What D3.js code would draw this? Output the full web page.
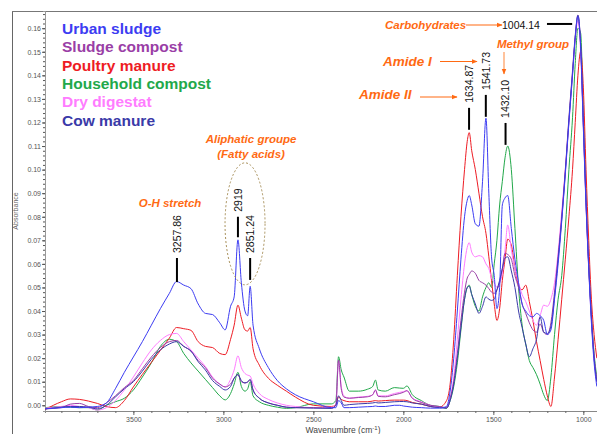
<!DOCTYPE html>
<html><head><meta charset="utf-8">
<script src="https://cdn.jsdelivr.net/npm/d3@7"></script>
<style>body{margin:0;background:#fff}svg{display:block}</style>
</head><body><svg id="c" width="597" height="434"></svg>
<script>
// ---- data ----
const wavenumbers = [3990,3900,3850,3800,3750,3700,3650,3600,3550,3500,3450,3400,3350,3300,3260,3220,3180,3140,3100,3060,3020,2990,2960,2940,2919,2900,2880,2865,2851,2835,2800,2750,2700,2650,2600,2500,2400,2375,2360,2345,2330,2300,2250,2200,2170,2155,2140,2100,2050,2020,2000,1980,1950,1900,1850,1800,1760,1740,1720,1700,1680,1660,1645,1634,1620,1600,1580,1560,1541,1525,1510,1495,1480,1465,1450,1435,1420,1400,1380,1360,1340,1320,1300,1280,1260,1240,1220,1200,1180,1160,1140,1120,1100,1080,1060,1045,1030,1015,1000,985,970,955,940,925];

const urbanSludge = [-0.0015,-0.001,-0.0008,-0.001,-0.0008,-0.0005,0.001,0.007,0.014,0.0205,0.027,0.034,0.041,0.0475,0.0525,0.051,0.0495,0.043,0.039,0.0385,0.035,0.032,0.042,0.046,0.0702,0.052,0.040,0.038,0.0505,0.034,0.024,0.016,0.0105,0.007,0.0045,0.0015,-0.001,-0.001,0.002,0.001,-0.001,-0.001,-0.0008,-0.0006,-0.0005,-0.0003,-0.0005,-0.0005,0.0,0.0,-0.0003,-0.0005,-0.0008,-0.001,-0.0012,-0.0012,-0.0005,0.006,0.02,0.04,0.062,0.08,0.087,0.089,0.085,0.077,0.076,0.095,0.1218,0.09,0.063,0.055,0.041,0.05,0.085,0.088,0.089,0.075,0.062,0.052,0.043,0.040,0.038,0.0375,0.039,0.038,0.036,0.030,0.032,0.045,0.060,0.078,0.098,0.12,0.14,0.156,0.165,0.152,0.118,0.085,0.058,0.035,0.018,0.008];

const sludgeCompost = [-0.0015,-0.001,0.0005,0.0008,-0.0005,-0.001,0.001,0.004,0.0075,0.0105,0.0155,0.0205,0.0245,0.027,0.0275,0.025,0.023,0.019,0.016,0.0115,0.009,0.0078,0.009,0.0115,0.013,0.010,0.0095,0.0098,0.0107,0.0065,0.003,0.001,0.0,-0.0008,-0.001,-0.001,-0.0012,0.0,0.0192,0.007,0.0035,0.003,0.0033,0.0036,0.0045,0.0065,0.0038,0.0036,0.0045,0.005,0.0055,0.0062,0.003,0.0012,0.0,-0.0005,-0.001,0.003,0.01,0.022,0.036,0.048,0.054,0.0555,0.057,0.056,0.053,0.052,0.051,0.0495,0.048,0.0475,0.049,0.052,0.058,0.0645,0.064,0.062,0.055,0.05,0.043,0.039,0.035,0.032,0.031,0.0345,0.031,0.03,0.035,0.048,0.063,0.08,0.1,0.122,0.142,0.157,0.1655,0.153,0.12,0.087,0.06,0.038,0.021,0.01];

const poultryManure = [-0.0018,0.0015,0.0027,0.0025,0.0018,0.0008,-0.0005,-0.001,0.002,0.0078,0.0131,0.0182,0.0233,0.0285,0.033,0.0325,0.0318,0.027,0.025,0.0245,0.022,0.0215,0.028,0.034,0.0425,0.037,0.032,0.0315,0.033,0.024,0.017,0.0115,0.0085,0.006,0.0035,0.0,-0.0005,0.0,0.0036,0.0025,0.002,0.0015,0.0015,0.0015,0.0018,0.002,0.0018,0.002,0.0022,0.0022,0.0022,0.002,0.0012,0.0005,-0.0005,-0.0008,0.002,0.009,0.028,0.055,0.08,0.1,0.112,0.1157,0.108,0.1,0.09,0.08,0.073,0.063,0.053,0.043,0.036,0.041,0.053,0.062,0.0705,0.068,0.058,0.051,0.049,0.051,0.044,0.036,0.027,0.019,0.011,0.004,-0.0005,0.012,0.028,0.045,0.062,0.08,0.1,0.12,0.14,0.15,0.135,0.1,0.07,0.045,0.03,0.02];

const householdCompost = [-0.001,-0.0005,-0.0008,-0.001,-0.001,-0.002,0.0,0.0015,0.003,0.0065,0.012,0.018,0.025,0.028,0.027,0.022,0.018,0.0145,0.011,0.0075,0.004,0.0023,0.005,0.009,0.014,0.008,0.006,0.007,0.010,0.004,0.0015,0.0,-0.0008,-0.0013,-0.001,0.0006,0.0006,0.002,0.0206,0.015,0.012,0.006,0.006,0.0068,0.008,0.0107,0.0065,0.006,0.0075,0.0073,0.0072,0.0082,0.0045,0.002,0.0,-0.0005,-0.0013,0.002,0.008,0.018,0.032,0.045,0.05,0.051,0.047,0.042,0.04,0.046,0.05,0.052,0.05,0.06,0.07,0.085,0.095,0.105,0.11,0.1,0.075,0.05,0.034,0.026,0.019,0.016,0.013,0.009,0.0045,0.002,0.012,0.03,0.045,0.055,0.075,0.1,0.122,0.145,0.16,0.158,0.125,0.09,0.06,0.038,0.022,0.012];

const dryDigestat = [-0.0012,-0.0005,0.0,-0.0005,-0.001,-0.002,-0.001,0.002,0.0065,0.012,0.018,0.0235,0.0275,0.030,0.0305,0.027,0.0235,0.020,0.0165,0.012,0.009,0.0078,0.011,0.015,0.021,0.016,0.0135,0.0128,0.0124,0.009,0.005,0.0025,0.001,0.0,-0.0005,-0.001,-0.0008,0.0,0.019,0.008,0.004,0.003,0.0035,0.0038,0.0045,0.0065,0.004,0.004,0.005,0.0055,0.0058,0.0062,0.003,0.0015,0.0,-0.0008,-0.001,0.003,0.012,0.028,0.045,0.06,0.067,0.069,0.065,0.063,0.0635,0.063,0.06,0.058,0.054,0.052,0.05,0.052,0.056,0.066,0.0765,0.066,0.058,0.052,0.047,0.044,0.040,0.036,0.034,0.038,0.0425,0.042,0.045,0.052,0.065,0.082,0.1,0.12,0.14,0.155,0.163,0.15,0.118,0.085,0.058,0.036,0.02,0.01];

const cowManure = [-0.0015,-0.0008,-0.0005,-0.0005,-0.0008,-0.0015,0.0,0.0035,0.007,0.010,0.0145,0.0195,0.0235,0.026,0.027,0.025,0.023,0.0185,0.015,0.0105,0.008,0.0065,0.008,0.0115,0.013,0.0105,0.0095,0.010,0.011,0.0065,0.003,0.001,0.0,-0.0008,-0.001,-0.0012,-0.0013,0.0,0.004,0.002,0.0,0.0003,0.0006,0.0008,0.001,0.0012,0.001,0.0012,0.0015,0.0016,0.0016,0.0015,0.001,0.0005,-0.0005,-0.001,-0.0012,0.002,0.009,0.02,0.033,0.045,0.05,0.0505,0.047,0.043,0.039,0.042,0.046,0.045,0.0445,0.045,0.049,0.053,0.058,0.0625,0.063,0.057,0.05,0.04,0.033,0.026,0.0206,0.024,0.028,0.0375,0.031,0.0305,0.0334,0.046,0.062,0.079,0.099,0.121,0.141,0.156,0.1655,0.153,0.12,0.086,0.059,0.037,0.02,0.01];

const seriesNames = ["Urban sludge","Sludge compost","Poultry manure","Household compost","Dry digestat","Cow manure"];
const seriesValues = [urbanSludge, sludgeCompost, poultryManure, householdCompost, dryDigestat, cowManure];
const seriesColors = ["#3c3cf2","#9a3ea6","#ee1c24","#22a84a","#ff7cff","#3a3aa8"];
const drawOrder = [3, 2, 4, 1, 5, 0];

const yTickValues = d3.range(0, 0.1601, 0.01);
const xTickValues = [3500, 3000, 2500, 2000, 1500, 1000];

const peakLabels = ["3257.86", "2919", "2851.24", "1634.87", "1541.73", "1432.10"];
const peakWavenumbers = [3257.86, 2919, 2851.24, 1634.87, 1541.73, 1432.10];
const carbLabel = "1004.14";

// ---- layout ----
const svg = d3.select("#c");
const L = 45, R = 597, T = 11, B = 411;
const x = d3.scaleLinear().domain([3991, 924]).range([L, R]);
const y = d3.scaleLinear().domain([-0.00242, 0.1673]).range([B, T]);
const orange = "#ff6a13";
const font = "Arial, 'Liberation Sans', sans-serif";

// frame
svg.append("line").attr("x1", 12.5).attr("x2", 12.5).attr("y1", 11).attr("y2", 434).attr("stroke", "#666");
svg.append("line").attr("x1", 12).attr("x2", 597).attr("y1", 11.5).attr("y2", 11.5).attr("stroke", "#777");

// axes
const yMinor = svg.append("g").attr("transform", `translate(${L},0)`)
  .call(d3.axisLeft(y).tickValues(d3.range(0, 0.1671, 0.002)).tickSize(2).tickFormat(""));
yMinor.select(".domain").attr("stroke", "#999");
yMinor.selectAll(".tick line").attr("stroke", "#555");
const yAx = svg.append("g").attr("transform", `translate(${L},0)`)
  .call(d3.axisLeft(y).tickValues(yTickValues).tickSize(3).tickPadding(1).tickFormat(d3.format(".2f")));
yAx.select(".domain").remove();
yAx.selectAll(".tick line").attr("stroke", "#555");
yAx.selectAll("text").attr("font-size", 7).attr("font-family", font).attr("fill", "#555");

const xMinor = svg.append("g").attr("transform", `translate(0,${B})`)
  .call(d3.axisBottom(x).tickValues(d3.range(3900, 900, -100)).tickSize(2).tickFormat(""));
xMinor.select(".domain").attr("stroke", "#888");
xMinor.selectAll(".tick line").attr("stroke", "#666");
const xAx = svg.append("g").attr("transform", `translate(0,${B})`)
  .call(d3.axisBottom(x).tickValues(xTickValues).tickSize(4).tickPadding(2).tickFormat(d3.format("d")));
xAx.select(".domain").remove();
xAx.selectAll(".tick line").attr("stroke", "#666");
xAx.selectAll("text").attr("font-size", 7).attr("font-family", font).attr("fill", "#555");

svg.append("text").attr("x", 343).attr("y", 433).attr("text-anchor", "middle")
  .attr("font-size", 8.5).attr("font-family", font).attr("fill", "#444")
  .html('Wavenumbre (cm<tspan dy="-3" font-size="6">-1</tspan><tspan dy="3">)</tspan>');
svg.append("text").attr("transform", "translate(18,211) rotate(-90)").attr("text-anchor", "middle")
  .attr("font-size", 7).attr("font-family", font).attr("fill", "#666").text("Absorbance");

// lines
svg.append("clipPath").attr("id", "clip").append("rect").attr("x", L).attr("y", T).attr("width", R - L).attr("height", B - T);
const line = d3.line().x((d, i) => x(wavenumbers[i])).y(d => y(d)).curve(d3.curveMonotoneX);
const lg = svg.append("g").attr("clip-path", "url(#clip)");
drawOrder.forEach(k => {
  lg.append("path").datum(seriesValues[k]).attr("d", line)
    .attr("fill", "none").attr("stroke", seriesColors[k]).attr("stroke-width", 1);
});

// legend
seriesNames.forEach((n, i) => {
  svg.append("text").attr("x", 62).attr("y", 33.8 + i * 18.35)
    .attr("font-size", 15.5).attr("font-weight", "bold").attr("font-family", font)
    .attr("fill", seriesColors[i]).text(n);
});

// peak markers
const markerSpans = [[0.0625, 0.0523], [0.080, 0.0713], [0.0625, 0.0532], [0.1262, 0.1169], [0.1317, 0.1224], [0.1198, 0.1105]];
peakWavenumbers.forEach((wn, i) => {
  const px = x(wn);
  svg.append("line").attr("x1", px).attr("x2", px)
    .attr("y1", y(markerSpans[i][0])).attr("y2", y(markerSpans[i][1]))
    .attr("stroke", "#000").attr("stroke-width", 2);
  svg.append("text").attr("transform", `translate(${px + 3.8},${y(markerSpans[i][0]) - 5}) rotate(-90)`)
    .attr("font-size", 10.5).attr("font-family", font).attr("fill", "#111").text(peakLabels[i]);
});
// carbohydrates marker
svg.append("line").attr("x1", x(1202)).attr("x2", x(1062)).attr("y1", y(0.1618)).attr("y2", y(0.1618))
  .attr("stroke", "#000").attr("stroke-width", 2);
svg.append("text").attr("x", 502).attr("y", 28.5).attr("font-size", 10.5).attr("font-family", font)
  .attr("fill", "#111").text(carbLabel);

// band annotations
const defs = svg.append("defs");
defs.append("marker").attr("id", "ah").attr("viewBox", "0 0 10 10").attr("refX", 9).attr("refY", 5)
  .attr("markerWidth", 5).attr("markerHeight", 5).attr("orient", "auto")
  .append("path").attr("d", "M0,1 L10,5 L0,9 Z").attr("fill", orange);
function band(txt, xx, yy, size, anchor) {
  svg.append("text").attr("x", xx).attr("y", yy).attr("text-anchor", anchor || "start")
    .attr("font-size", size).attr("font-weight", "bold").attr("font-style", "italic")
    .attr("font-family", font).attr("fill", orange).text(txt);
}
function arrow(x1, y1, x2, y2, col) {
  svg.append("line").attr("x1", x1).attr("y1", y1).attr("x2", x2).attr("y2", y2)
    .attr("stroke", col || orange).attr("stroke-width", 1.2).attr("marker-end", "url(#ah)");
}
band("O-H stretch", 170, 207, 11.5, "middle");
band("Aliphatic groupe", 251, 143, 11.5, "middle");
band("(Fatty acids)", 251, 158, 11.5, "middle");
band("Carbohydrates", 385, 29, 11.5);
arrow(466, 25, 502, 25);
band("Methyl group", 533, 47.5, 11.5, "middle");
arrow(504, 52, 504, 74, "#ff9a5a");
band("Amide I", 383, 66, 13.5);
arrow(440, 61.5, 477, 61.5);
band("Amide II", 359, 99, 13.5);
arrow(420, 97, 457, 97);

// aliphatic ellipse
svg.append("ellipse").attr("cx", (x(2919) + x(2851.24)) / 2 + 1).attr("cy", y(0.077)).attr("rx", 20).attr("ry", 61)
  .attr("fill", "none").attr("stroke", "#a8905a").attr("stroke-width", 1).attr("stroke-dasharray", "2,2");
</script></body></html>
